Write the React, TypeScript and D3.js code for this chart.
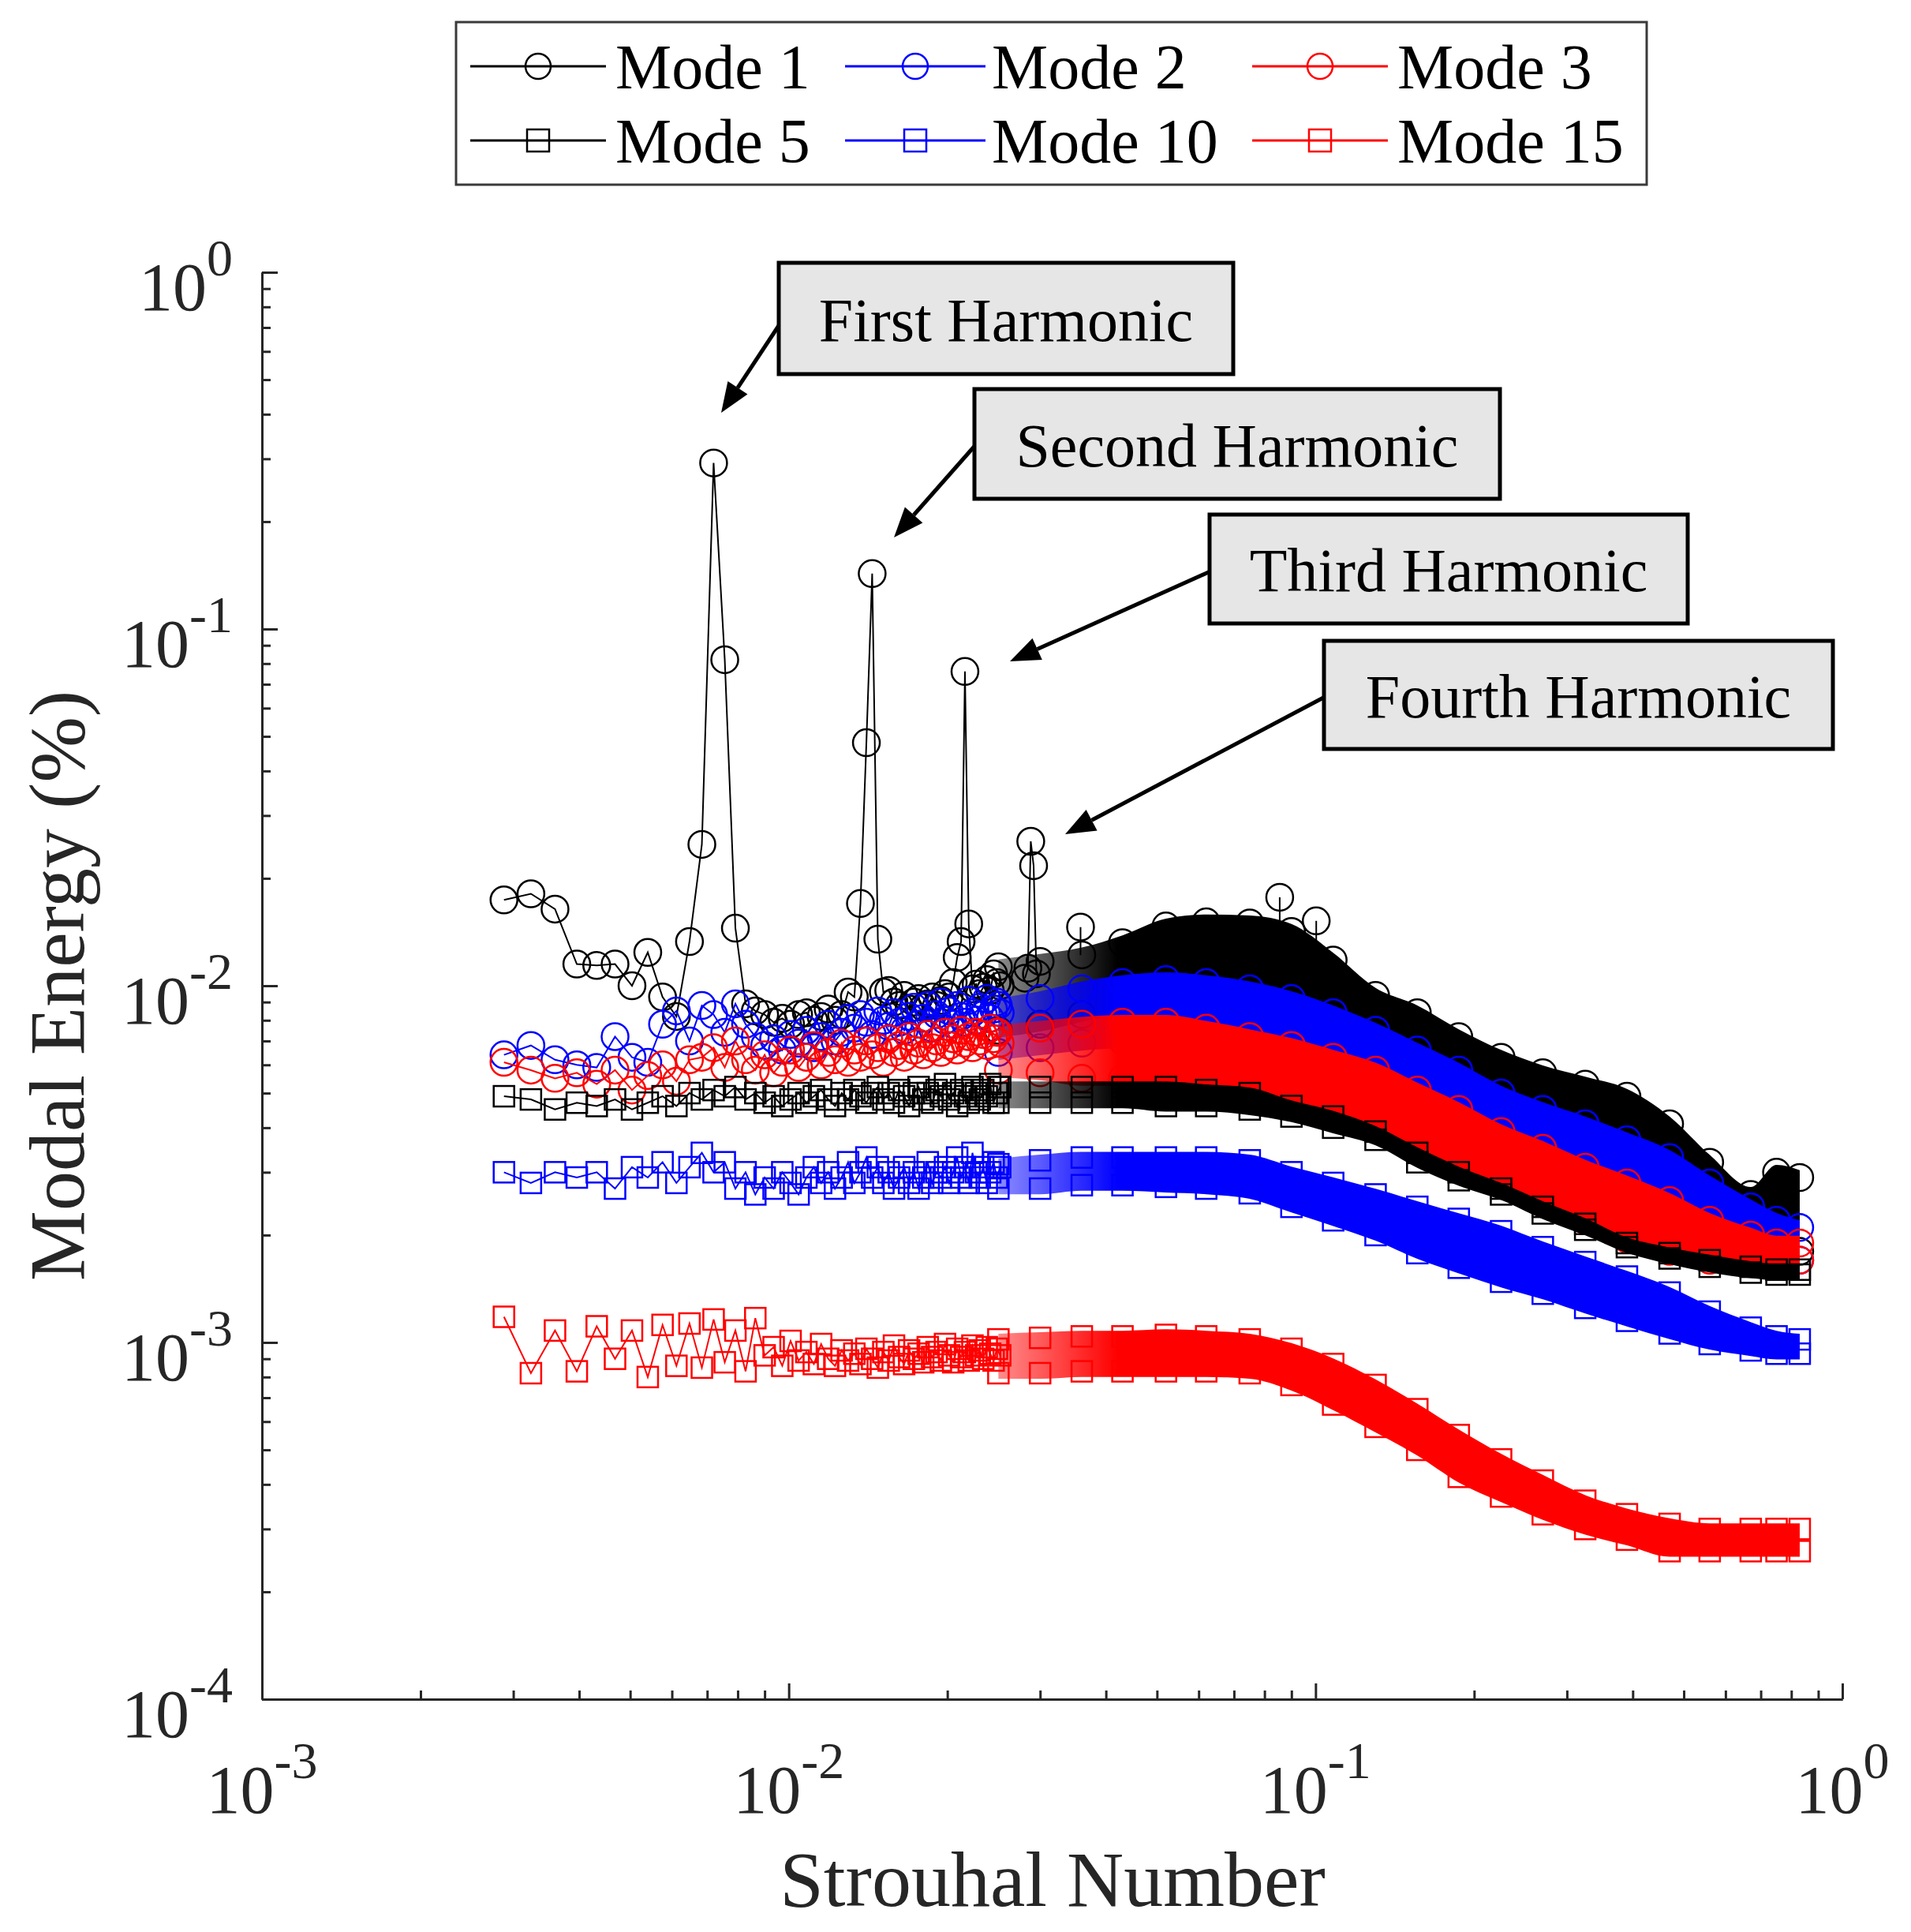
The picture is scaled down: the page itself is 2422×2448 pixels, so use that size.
import React, { useEffect, useRef } from 'react';
import * as d3 from 'd3';

// Strouhal numbers of the individually visible low-frequency points
const stLow = [
  0.00288, 0.00324, 0.0036, 0.00396, 0.00432, 0.00468, 0.00504, 0.0054, 0.00576, 0.00612,
  0.00648, 0.00684, 0.0072, 0.00756, 0.00792, 0.00828, 0.00864, 0.009, 0.00936, 0.00972,
  0.01008, 0.01044, 0.0108, 0.01116, 0.01152, 0.01188, 0.01224, 0.0126, 0.01296, 0.01332,
  0.01368, 0.01404, 0.0144, 0.01476, 0.01512, 0.01548, 0.01584, 0.0162, 0.01656, 0.01692,
  0.01728, 0.01764, 0.018, 0.01836, 0.01872, 0.01908, 0.01944, 0.0198, 0.02016, 0.02052,
  0.02088, 0.02124, 0.0216, 0.02196, 0.02232, 0.02268, 0.02304, 0.0234, 0.02376, 0.02412,
  0.02448, 0.02484, 0.0252,
];

const mode1Low = [
  0.0174, 0.0181, 0.0164, 0.0115, 0.0114, 0.0115, 0.01, 0.0124, 0.0093, 0.0082,
  0.0133, 0.0249, 0.292, 0.082, 0.0145, 0.0089, 0.0085, 0.0083, 0.0079, 0.0081,
  0.0078, 0.0083, 0.0084, 0.008, 0.0082, 0.0086, 0.008, 0.0083, 0.0096, 0.0093,
  0.017, 0.048, 0.143, 0.0135, 0.0096, 0.0097, 0.009, 0.0088, 0.0094, 0.0086,
  0.009, 0.0092, 0.0087, 0.0089, 0.0093, 0.0088, 0.0091, 0.0095, 0.0093, 0.0102,
  0.012, 0.0133, 0.076, 0.0149, 0.0098, 0.0101, 0.0095, 0.0099, 0.0104, 0.0097,
  0.0108, 0.0102, 0.01,
];
const mode2Low = [
  0.0064, 0.0068, 0.0062, 0.006, 0.0059, 0.0072, 0.0063, 0.0061, 0.0078, 0.0085,
  0.007, 0.0088, 0.0083, 0.0074, 0.0089, 0.0078, 0.0072, 0.0068, 0.0071, 0.0066,
  0.0073, 0.0069, 0.0075, 0.0067, 0.0072, 0.0078, 0.007, 0.0074, 0.0081, 0.0076,
  0.0083, 0.0079, 0.0073, 0.0085, 0.008, 0.0077, 0.0084, 0.0079, 0.0075, 0.0082,
  0.0087, 0.0078, 0.0081, 0.0088, 0.0076, 0.0083, 0.009, 0.008, 0.0085, 0.0078,
  0.0088, 0.0082, 0.0079, 0.0091, 0.0084, 0.008, 0.0087, 0.0083, 0.0092, 0.0081,
  0.0086, 0.009, 0.0084,
];
const mode3Low = [
  0.0061, 0.0058, 0.0055, 0.0057, 0.0053, 0.0058, 0.0051, 0.0056, 0.006, 0.0054,
  0.0062, 0.0063, 0.0067, 0.0059, 0.007, 0.0062, 0.0058, 0.0064, 0.0057, 0.0061,
  0.0066, 0.0059, 0.0063, 0.0068, 0.006, 0.0065, 0.0062, 0.0069, 0.0061, 0.0066,
  0.0063, 0.007, 0.0064, 0.0067, 0.0061, 0.0071, 0.0065, 0.0068, 0.0063, 0.0072,
  0.0066, 0.0069, 0.0064, 0.0073, 0.0067, 0.007, 0.0065, 0.0074, 0.0068, 0.0071,
  0.0066, 0.0075, 0.0069, 0.0072, 0.0067, 0.0074, 0.007, 0.0073, 0.0068, 0.0076,
  0.0071, 0.0074, 0.0069,
];
const mode5Low = [
  0.0049, 0.0048, 0.0045, 0.0047, 0.0046, 0.0048, 0.0045, 0.0047, 0.0049, 0.0046,
  0.005, 0.0048, 0.0051, 0.0049, 0.0052, 0.0048, 0.005, 0.0047, 0.0049, 0.0046,
  0.0048, 0.005, 0.0047, 0.0049, 0.0051, 0.0048, 0.0046, 0.005, 0.0048, 0.0051,
  0.0049, 0.0047, 0.005, 0.0052, 0.0048, 0.005, 0.0047, 0.0051, 0.0049, 0.0046,
  0.005, 0.0052, 0.0048, 0.005, 0.0047, 0.0051, 0.0049, 0.0053, 0.0048, 0.005,
  0.0046, 0.0051, 0.0049, 0.0047, 0.0052, 0.005, 0.0048, 0.0051, 0.0049, 0.0053,
  0.0047, 0.005, 0.0052,
];
const mode10Low = [
  0.003, 0.0028, 0.003, 0.0029, 0.003, 0.0027, 0.0031, 0.0029, 0.0032, 0.0028,
  0.0031, 0.0034, 0.003, 0.0032, 0.0027, 0.003, 0.0026, 0.0029, 0.0027, 0.003,
  0.0028, 0.0026, 0.0029, 0.0031, 0.0028, 0.003, 0.0027, 0.0029, 0.0032, 0.0028,
  0.003, 0.0033, 0.0029, 0.0031, 0.0028, 0.003, 0.0027, 0.0029, 0.0031, 0.0028,
  0.003, 0.0027, 0.0029, 0.0032, 0.0028, 0.003, 0.0029, 0.0031, 0.0028, 0.003,
  0.0033, 0.0029, 0.0031, 0.0028, 0.0034, 0.003, 0.0029, 0.0031, 0.0028, 0.003,
  0.0032, 0.0029, 0.0031,
];
const mode15Low = [
  0.00118, 0.00082, 0.00108, 0.00083, 0.00111, 0.0009, 0.00108, 0.0008, 0.00112, 0.00086,
  0.00113, 0.00085, 0.00116, 0.00088, 0.00108, 0.00083, 0.00117, 0.00092, 0.00097, 0.00086,
  0.00101, 0.00089, 0.00094, 0.00087, 0.00099, 0.0009, 0.00086, 0.00095, 0.00089, 0.00093,
  0.00087, 0.00096, 0.0009, 0.00085, 0.00094, 0.00089, 0.00098, 0.00091, 0.00087, 0.00095,
  0.0009, 0.00093, 0.00088, 0.00097, 0.00091, 0.00094, 0.00089, 0.00099, 0.00092, 0.00088,
  0.00096, 0.00091, 0.00094, 0.00089, 0.00098, 0.00092, 0.00095, 0.0009, 0.00097, 0.00093,
  0.00089, 0.00096, 0.00092,
];

// dense part of the spectra: upper / lower edge of the marker cloud
const bandSt = [
  0.025, 0.03, 0.036, 0.043, 0.052, 0.062, 0.075, 0.09, 0.108, 0.13, 0.156,
  0.187, 0.225, 0.27, 0.325, 0.39, 0.47, 0.56, 0.67, 0.75, 0.83,
];
const mode1Hi = [0.0113, 0.0117, 0.0122, 0.0132, 0.0147, 0.0151, 0.015, 0.0142, 0.0118, 0.0094, 0.0084, 0.0072, 0.0063, 0.0057, 0.0053, 0.0049, 0.0041, 0.0032, 0.0026, 0.003, 0.0029];
const mode1Lo = [0.0075, 0.0078, 0.0083, 0.0087, 0.0088, 0.0087, 0.0083, 0.0078, 0.0071, 0.0064, 0.0056, 0.0049, 0.0043, 0.0038, 0.0035, 0.0031, 0.0028, 0.0024, 0.002, 0.0019, 0.0018];
const mode2Hi = [0.0088, 0.0092, 0.0098, 0.0102, 0.0104, 0.0102, 0.0098, 0.0092, 0.0084, 0.0075, 0.0066, 0.0058, 0.005, 0.0045, 0.0041, 0.0037, 0.0033, 0.0028, 0.0024, 0.0022, 0.0021];
const mode2Lo = [0.0065, 0.0067, 0.0069, 0.007, 0.007, 0.0067, 0.0063, 0.006, 0.0055, 0.0051, 0.0045, 0.004, 0.0034, 0.0031, 0.0027, 0.0025, 0.0022, 0.002, 0.0018, 0.0017, 0.0017];
const mode3Hi = [0.0074, 0.0076, 0.0078, 0.0079, 0.0079, 0.0076, 0.0072, 0.0068, 0.0063, 0.0058, 0.0051, 0.0045, 0.0039, 0.0035, 0.0031, 0.0028, 0.0025, 0.0022, 0.002, 0.0019, 0.0019];
const mode3Lo = [0.0058, 0.0057, 0.0055, 0.0055, 0.0055, 0.0054, 0.0051, 0.0047, 0.0044, 0.004, 0.0035, 0.0031, 0.0028, 0.0025, 0.0022, 0.00195, 0.0018, 0.0017, 0.0017, 0.0017, 0.0017];
const mode5Hi = [0.0052, 0.0052, 0.0052, 0.0052, 0.0052, 0.0051, 0.005, 0.0046, 0.0043, 0.0039, 0.0034, 0.003, 0.0027, 0.0024, 0.00215, 0.0019, 0.00178, 0.0017, 0.00163, 0.0016, 0.0016];
const mode5Lo = [0.0047, 0.0047, 0.0047, 0.0047, 0.0046, 0.0046, 0.0045, 0.0043, 0.004, 0.0037, 0.0032, 0.00285, 0.0026, 0.0023, 0.00207, 0.00185, 0.00172, 0.00163, 0.00157, 0.00155, 0.00155];
const mode10Hi = [0.00316, 0.00324, 0.0033, 0.0033, 0.0033, 0.0033, 0.00324, 0.003, 0.0028, 0.0026, 0.0024, 0.00222, 0.00205, 0.00185, 0.00168, 0.00153, 0.00138, 0.00122, 0.0011, 0.00104, 0.00102];
const mode10Lo = [0.0027, 0.0027, 0.00276, 0.00276, 0.00273, 0.0027, 0.00262, 0.0024, 0.0022, 0.002, 0.00178, 0.00162, 0.00148, 0.00137, 0.00125, 0.00115, 0.00106, 0.00099, 0.00095, 0.00093, 0.00093];
const mode15Hi = [0.00102, 0.00103, 0.00104, 0.00104, 0.00105, 0.00104, 0.00102, 0.00096, 0.00087, 0.00076, 0.00065, 0.00055, 0.00047, 0.00041, 0.00036, 0.00033, 0.00031, 0.0003, 0.0003, 0.0003, 0.0003];
const mode15Lo = [0.00082, 0.00082, 0.00083, 0.00083, 0.00083, 0.00083, 0.00082, 0.00076, 0.00067, 0.00058, 0.0005, 0.00042, 0.00037, 0.00033, 0.0003, 0.00028, 0.00026, 0.00026, 0.00026, 0.00026, 0.00026];

// mode 1: fourth harmonic peak and a few outliers above the cloud
const mode1PeakSt = [0.02808, 0.02844, 0.0288, 0.02916, 0.02952];
const mode1PeakE = [0.0105, 0.0112, 0.0254, 0.0217, 0.0108];
const mode1OutlierSt = [0.0358, 0.0855, 0.1003];
const mode1OutlierE = [0.0146, 0.0177, 0.0152];

const legendLabels = ['Mode 1', 'Mode 2', 'Mode 3', 'Mode 5', 'Mode 10', 'Mode 15'];
const decadeTicks = [1e-4, 1e-3, 1e-2, 1e-1, 1];
const harmonicLabels = ['First Harmonic', 'Second Harmonic', 'Third Harmonic', 'Fourth Harmonic'];

const series = [
  { color: '#000000', marker: 'o', low: mode1Low, hi: mode1Hi, lo: mode1Lo },
  { color: '#0000ff', marker: 'o', low: mode2Low, hi: mode2Hi, lo: mode2Lo },
  { color: '#ff0000', marker: 'o', low: mode3Low, hi: mode3Hi, lo: mode3Lo },
  { color: '#000000', marker: 's', low: mode5Low, hi: mode5Hi, lo: mode5Lo },
  { color: '#0000ff', marker: 's', low: mode10Low, hi: mode10Hi, lo: mode10Lo },
  { color: '#ff0000', marker: 's', low: mode15Low, hi: mode15Hi, lo: mode15Lo },
];

const FONT = "'Liberation Serif', 'Times New Roman', serif";
const AXIS = '#262626';

const drawMarkers = (g, pts, shape, color, r) => {
  if (shape === 'o') {
    g.selectAll(null)
      .data(pts)
      .enter()
      .append('circle')
      .attr('cx', (d) => d[0])
      .attr('cy', (d) => d[1])
      .attr('r', r)
      .attr('fill', 'none')
      .attr('stroke', color)
      .attr('stroke-width', 2.5);
  } else {
    g.selectAll(null)
      .data(pts)
      .enter()
      .append('rect')
      .attr('x', (d) => d[0] - r)
      .attr('y', (d) => d[1] - r)
      .attr('width', 2 * r)
      .attr('height', 2 * r)
      .attr('fill', 'none')
      .attr('stroke', color)
      .attr('stroke-width', 2.5);
  }
};

const App = () => {
  const ref = useRef<SVGSVGElement | null>(null);

  useEffect(() => {
    if (!ref.current) return;
    const svg = d3.select(ref.current);
    svg.selectAll('*').remove();

    const x = d3.scaleLog().domain([1e-3, 1]).range([332, 2335]);
    const y = d3.scaleLog().domain([1e-4, 1]).range([2153, 345]);
    const defs = svg.append('defs');
    const plot = svg.append('g');

    const line = d3
      .line<number[]>()
      .x((d) => x(d[0]))
      .y((d) => y(d[1]));

    series.forEach((s, i) => {
      const r = s.marker === 'o' ? 17 : 13;
      const grad = defs
        .append('linearGradient')
        .attr('id', `fade${i}`)
        .attr('gradientUnits', 'userSpaceOnUse')
        .attr('x1', x(0.025))
        .attr('x2', x(0.042))
        .attr('y1', 0)
        .attr('y2', 0);
      grad.append('stop').attr('offset', 0).attr('stop-color', s.color).attr('stop-opacity', 0.45);
      grad.append('stop').attr('offset', 1).attr('stop-color', s.color).attr('stop-opacity', 1);

      const g = plot.append('g');
      const lowPts = stLow.map((st, k) => [st, s.low[k]]);
      g.append('path')
        .datum(lowPts)
        .attr('d', line)
        .attr('fill', 'none')
        .attr('stroke', s.color)
        .attr('stroke-width', 2);

      const band = bandSt.map((st, k) => ({ st, lo: s.lo[k], hi: s.hi[k] }));
      const area = d3
        .area<{ st: number; lo: number; hi: number }>()
        .x((d) => x(d.st))
        .y0((d) => y(d.lo) + r * 0.55)
        .y1((d) => y(d.hi) - r * 0.55)
        .curve(d3.curveMonotoneX);
      g.append('path').datum(band).attr('d', area).attr('fill', `url(#fade${i})`);

      drawMarkers(g, lowPts.map((d) => [x(d[0]), y(d[1])]), s.marker, s.color, r);
      drawMarkers(g, band.map((d) => [x(d.st), y(d.hi)]), s.marker, s.color, r);
      drawMarkers(g, band.map((d) => [x(d.st), y(d.lo)]), s.marker, s.color, r);

      if (i === 0) {
        const peak = mode1PeakSt.map((st, k) => [st, mode1PeakE[k]]);
        g.append('path')
          .datum(peak)
          .attr('d', line)
          .attr('fill', 'none')
          .attr('stroke', s.color)
          .attr('stroke-width', 2);
        drawMarkers(g, peak.map((d) => [x(d[0]), y(d[1])]), 'o', s.color, r);
        const hiAt = d3.scaleLog().domain(bandSt).range(mode1Hi);
        mode1OutlierSt.forEach((st, k) => {
          g.append('line')
            .attr('x1', x(st))
            .attr('x2', x(st))
            .attr('y1', y(mode1OutlierE[k]))
            .attr('y2', y(hiAt(st)))
            .attr('stroke', s.color)
            .attr('stroke-width', 2);
        });
        drawMarkers(g, mode1OutlierSt.map((st, k) => [x(st), y(mode1OutlierE[k])]), 'o', s.color, r);
      }
    });

    // axes (ticks point inward, no box)
    const minorX = d3.range(-3, 0).flatMap((e) => d3.range(2, 10).map((m) => m * Math.pow(10, e)));
    const minorY = d3.range(-4, 0).flatMap((e) => d3.range(2, 10).map((m) => m * Math.pow(10, e)));
    const styleAxis = (sel) => {
      sel.selectAll('path,line').attr('stroke', AXIS).attr('stroke-width', 3);
      sel.selectAll('text').remove();
    };
    svg.append('g')
      .attr('transform', 'translate(332,0)')
      .call(d3.axisLeft(y).tickValues(minorY).tickSize(-11).tickSizeOuter(0))
      .call(styleAxis);
    svg.append('g')
      .attr('transform', 'translate(332,0)')
      .call(d3.axisLeft(y).tickValues(decadeTicks).tickSize(-20).tickSizeOuter(0))
      .call(styleAxis);
    svg.append('g')
      .attr('transform', 'translate(0,2153)')
      .call(d3.axisBottom(x).tickValues(minorX).tickSize(-11).tickSizeOuter(0))
      .call(styleAxis);
    svg.append('g')
      .attr('transform', 'translate(0,2153)')
      .call(d3.axisBottom(x).tickValues(decadeTicks.slice(1)).tickSize(-20).tickSizeOuter(0))
      .call(styleAxis);

    const expLabel = (px, py, anchor, v) => {
      const t = svg.append('text')
        .attr('x', px)
        .attr('y', py)
        .attr('text-anchor', anchor)
        .attr('font-family', FONT)
        .attr('fill', AXIS);
      t.append('tspan').attr('font-size', 86).text('10');
      t.append('tspan').attr('font-size', 66).attr('dy', -44).text(String(Math.round(Math.log10(v))));
    };
    decadeTicks.forEach((v) => expLabel(295, y(v) + 48, 'end', v));
    decadeTicks.slice(1).forEach((v) => expLabel(x(v), 2297, 'middle', v));

    svg.append('text')
      .attr('transform', 'translate(106,1249) rotate(-90)')
      .attr('text-anchor', 'middle')
      .attr('font-family', FONT)
      .attr('font-size', 100)
      .attr('fill', AXIS)
      .text('Modal Energy (%)');
    svg.append('text')
      .attr('x', 1334)
      .attr('y', 2415)
      .attr('text-anchor', 'middle')
      .attr('font-family', FONT)
      .attr('font-size', 100)
      .attr('fill', AXIS)
      .text('Strouhal Number');

    // harmonic call-outs
    const boxes = [
      { x0: 987, y0: 333, x1: 1563, y1: 474, sx: 990, sy: 408, tx: 914, ty: 523 },
      { x0: 1235, y0: 493, x1: 1901, y1: 632, sx: 1238, sy: 562, tx: 1133, ty: 681 },
      { x0: 1533, y0: 652, x1: 2139, y1: 790, sx: 1536, sy: 723, tx: 1280, ty: 838 },
      { x0: 1678, y0: 812, x1: 2323, y1: 949, sx: 1681, sy: 882, tx: 1350, ty: 1057 },
    ];
    boxes.forEach((b, i) => {
      const dx = b.tx - b.sx;
      const dy = b.ty - b.sy;
      const len = Math.hypot(dx, dy);
      const ux = dx / len;
      const uy = dy / len;
      const bx = b.tx - ux * 38;
      const by = b.ty - uy * 38;
      svg.append('line')
        .attr('x1', b.sx).attr('y1', b.sy).attr('x2', bx).attr('y2', by)
        .attr('stroke', '#000').attr('stroke-width', 5);
      svg.append('polygon')
        .attr('points', [
          [b.tx, b.ty],
          [bx - uy * 15, by + ux * 15],
          [bx + uy * 15, by - ux * 15],
        ].map((p) => p.join(',')).join(' '))
        .attr('fill', '#000');
      svg.append('rect')
        .attr('x', b.x0).attr('y', b.y0)
        .attr('width', b.x1 - b.x0).attr('height', b.y1 - b.y0)
        .attr('fill', '#e6e6e6').attr('stroke', '#000').attr('stroke-width', 5);
      svg.append('text')
        .attr('x', (b.x0 + b.x1) / 2)
        .attr('y', (b.y0 + b.y1) / 2 + 28)
        .attr('text-anchor', 'middle')
        .attr('font-family', FONT)
        .attr('font-size', 78)
        .attr('fill', '#000')
        .text(harmonicLabels[i]);
    });

    // legend
    const lg = svg.append('g');
    lg.append('rect')
      .attr('x', 578).attr('y', 28).attr('width', 1509).attr('height', 206)
      .attr('fill', '#fff').attr('stroke', '#3a3a3a').attr('stroke-width', 3);
    const cols = [
      { l0: 596, l1: 768, tx: 780 },
      { l0: 1071, l1: 1249, tx: 1257 },
      { l0: 1587, l1: 1759, tx: 1771 },
    ];
    const rows = [84, 178];
    series.forEach((s, i) => {
      const c = cols[i % 3];
      const ry = rows[Math.floor(i / 3)];
      lg.append('line')
        .attr('x1', c.l0).attr('x2', c.l1).attr('y1', ry).attr('y2', ry)
        .attr('stroke', s.color).attr('stroke-width', 3);
      drawMarkers(lg, [[(c.l0 + c.l1) / 2, ry]], s.marker, s.color, s.marker === 'o' ? 16 : 14);
      lg.append('text')
        .attr('x', c.tx).attr('y', ry + 28)
        .attr('font-family', FONT).attr('font-size', 80).attr('fill', '#000')
        .text(legendLabels[i]);
    });
  }, []);

  return (
    <div>
      <svg
        ref={ref}
        width={2422}
        height={2448}
        style={{ position: 'absolute', left: 0, top: 0, background: '#fff', display: 'block' }}
      />
    </div>
  );
};

export default App;
